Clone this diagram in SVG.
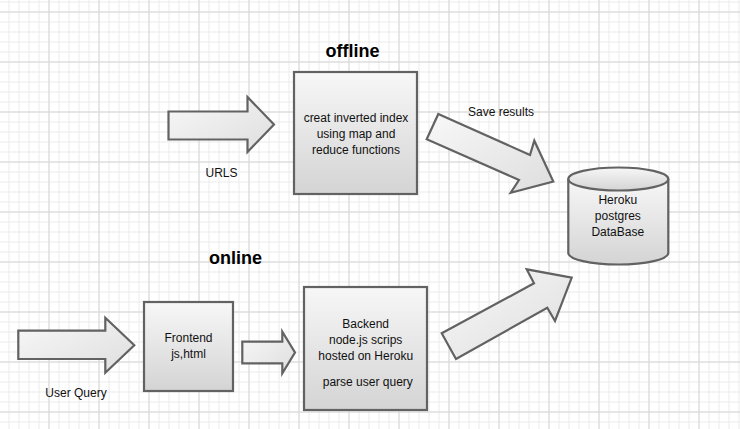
<svg xmlns="http://www.w3.org/2000/svg" width="740" height="429" viewBox="0 0 740 429">
<defs>
<pattern id="minor" x="8.5" y="1.5" width="10" height="10" patternUnits="userSpaceOnUse">
<path d="M0 0.5H10M0.5 0V10" fill="none" stroke="#ebebeb" stroke-width="1"/>
</pattern>
<pattern id="major" x="48.5" y="11.5" width="50" height="50" patternUnits="userSpaceOnUse">
<path d="M0 0.5H50M0.5 0V50" fill="none" stroke="#d6d6d6" stroke-width="1"/>
</pattern>
<linearGradient id="g" x1="0" y1="0" x2="0" y2="1">
<stop offset="0" stop-color="#f7f7f7"/>
<stop offset="1" stop-color="#d4d4d4"/>
</linearGradient>
<linearGradient id="ga" x1="0" y1="0" x2="1" y2="1">
<stop offset="0" stop-color="#f8f8f8"/>
<stop offset="1" stop-color="#dedede"/>
</linearGradient>
</defs>
<style>
.shape{fill:url(#g);stroke:#626262;stroke-width:2.2;stroke-linejoin:miter}
.arrow{fill:url(#ga);stroke:#626262;stroke-width:2.2;stroke-linejoin:miter}
text{font-family:"Liberation Sans",Arial,sans-serif;font-size:12px;fill:#111;text-anchor:middle}
.title{font-size:18px;font-weight:bold;fill:#000}
</style>
<rect width="740" height="429" fill="#fff"/>
<rect width="740" height="429" fill="url(#minor)"/>
<rect width="740" height="429" fill="url(#major)"/>

<g id="connectors">
<g id="arrow-urls">
<polygon class="arrow" points="168.5,111.5 247.5,111.5 247.5,97 274,124.5 247.5,152 247.5,139.5 168.5,139.5"/>
<text x="221.5" y="177">URLS</text>
</g>
<g id="arrow-save">
<polygon class="arrow" points="438.3,114 530,155 534.3,140.7 553.3,181.5 510.7,192.7 519,180 426.7,139.3"/>
<text x="501" y="116">Save results</text>
</g>
<g id="arrow-query">
<polygon class="arrow" points="18.3,330.7 105.3,330.7 105.3,317.7 134.3,345.3 105.3,372.7 105.3,359 18.3,359"/>
<text x="76" y="397">User Query</text>
</g>
<g id="arrow-front-back">
<polygon class="arrow" points="242.3,341.7 282.3,341.7 282.3,331.7 295,352.5 282.3,373.3 282.3,363.3 242.3,363.3"/>
</g>
<g id="arrow-back-db">
<polygon class="arrow" points="441.7,333.3 534,283.3 526.7,269.3 571.7,277.7 555,321 547.3,307.7 456,359"/>
</g>
</g>

<text class="title" x="352.5" y="57">offline</text>
<text class="title" x="235.5" y="263.5">online</text>

<g id="offline-box">
<rect class="shape" x="294" y="72" width="123" height="122"/>
<text x="356" y="121.5">creat inverted index</text>
<text x="356" y="137.5">using map and</text>
<text x="356" y="153.5">reduce functions</text>
</g>

<g id="database">
<path class="shape" d="M568.3 179V253A50 11.5 0 0 0 668.3 253V179"/>
<ellipse class="shape" cx="618.3" cy="179" rx="50" ry="11.5"/>
<text x="617.8" y="204">Heroku</text>
<text x="617.8" y="220">postgres</text>
<text x="617.8" y="236">DataBase</text>
</g>

<g id="frontend">
<rect class="shape" x="144" y="302" width="89" height="89"/>
<text x="188.5" y="342">Frontend</text>
<text x="188.5" y="358">js,html</text>
</g>

<g id="backend">
<rect class="shape" x="304" y="287" width="123" height="123"/>
<text x="365.7" y="327.5">Backend</text>
<text x="365.7" y="344">node.js scrips</text>
<text x="365.7" y="360">hosted on Heroku</text>
<text x="367.8" y="386">parse user query</text>
</g>
</svg>
